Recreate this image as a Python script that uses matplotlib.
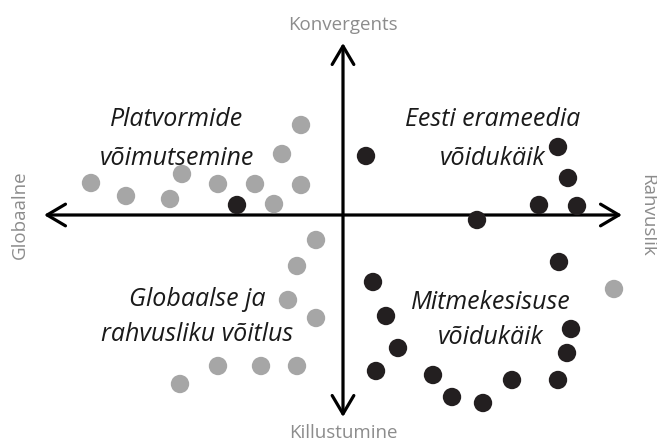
import matplotlib
matplotlib.use("Agg")
import matplotlib.pyplot as plt
from matplotlib.patches import FancyArrowPatch

# positions on the two axes (globaalne <-> rahvuslik, killustumine <-> konvergents)
gray_x = [-4.2, -6.1, -16.1, -25.2, -12.5, -8.8, -4.2, -21.7, -17.3, -6.9,
          -2.7, -4.6, -5.5, -2.7, -12.5, -8.2, -4.6, -16.3, 27.1]
gray_y = [9.0, 6.1, 4.1, 3.2, 3.1, 3.1, 3.0, 1.9, 1.6, 1.1,
          -2.5, -5.1, -8.5, -10.3, -15.1, -15.1, -15.1, -16.9, -7.4]
black_x = [-10.6, 2.3, 21.5, 22.5, 19.6, 23.4, 13.4,
           21.6, 3.0, 4.3, 5.5, 3.3, 9.0, 10.9, 14.0, 16.9, 21.5, 22.8, 22.4]
black_y = [1.0, 5.9, 6.8, 3.7, 1.0, 0.9, -0.5,
           -4.7, -6.7, -10.1, -13.3, -15.6, -16.0, -18.2, -18.8, -16.5, -16.5, -11.4, -13.8]

axis_labels = ["Konvergents", "Killustumine", "Globaalne", "Rahvuslik"]
quadrant_labels = ["Platvormide\nvõimutsemine", "Eesti erameedia\nvõidukäik",
                   "Globaalse ja\nrahvusliku võitlus", "Mitmekesisuse\nvõidukäik"]

fig = plt.figure(figsize=(6.57, 4.43), dpi=100)
ax = fig.add_axes([0, 0, 1, 1])
ax.set_xlim(-34.3, 31.4)
ax.set_ylim(-22.8, 21.5)
ax.axis("off")

ax.scatter(gray_x, gray_y, s=175, color="#a6a6a6", edgecolors="none", zorder=3)
ax.scatter(black_x, black_y, s=175, color="#231f20", edgecolors="none", zorder=3)

arrow_kw = dict(arrowstyle="<->,head_length=1.1,head_width=0.65",
                color="black", lw=2.3, mutation_scale=12, zorder=2,
                shrinkA=0, shrinkB=0)
ax.add_patch(FancyArrowPatch((-29.9, 0), (27.9, 0), **arrow_kw))
ax.add_patch(FancyArrowPatch((0, 17.2), (0, -20.2), **arrow_kw))

lab_kw = dict(family="Open Sans", fontsize=13.5, color="#8c8c8c",
              ha="center", va="center")
ax.text(0, 19.0, axis_labels[0], **lab_kw)
ax.text(0, -21.8, axis_labels[1], **lab_kw)
ax.text(-32.3, 0, axis_labels[2], rotation=90, **lab_kw)
ax.text(30.4, 0, axis_labels[3], rotation=-90, **lab_kw)

q_kw = dict(family="Open Sans", style="italic", fontsize=18, color="#1a1a1a",
            ha="center", va="center", zorder=4)
ax.text(-16.6, 7.6, quadrant_labels[0], linespacing=1.75, **q_kw)
ax.text(15.0, 7.6, quadrant_labels[1], linespacing=1.75, **q_kw)
ax.text(-14.6, -10.2, quadrant_labels[2], linespacing=1.55, **q_kw)
ax.text(14.8, -10.5, quadrant_labels[3], linespacing=1.5, **q_kw)

fig.savefig("out.png", dpi=100, facecolor="white")
